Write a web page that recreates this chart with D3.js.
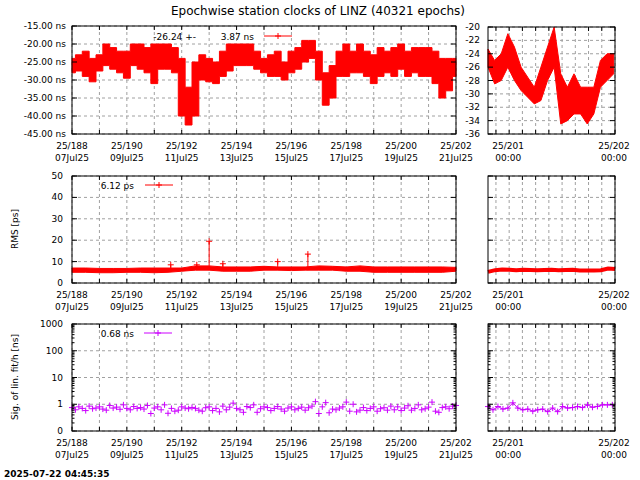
<!DOCTYPE html>
<html><head><meta charset="utf-8">
<script src="https://cdn.jsdelivr.net/npm/d3@7"></script>
<style>body{margin:0;background:#fff}svg text{font-family:"DejaVu Sans",sans-serif;font-size:9px}</style>
</head><body><svg id="c" width="640" height="480"></svg>
<script>
const title = "Epochwise station clocks of LINZ (40321 epochs)";
const timestamp = "2025-07-22 04:45:35";
// top panel: envelope per 0.25 day starting at 188.0
const clkStart = 188, clkStep = 0.25;
const clkHi = [-24,-23,-22,-24,-23,-20,-21,-22,-22,-20,-20,-21,-20,-20,-20,-21,-24,-32,-25,-23,-24,-25,-22,-20,-20,-20,-20,-22,-24,-23,-22,-25,-22,-21,-19,-19,-22,-28,-26,-22,-20,-22,-20,-22,-23,-21,-22,-21,-20,-22,-21,-21,-21,-22,-24,-24,-24];
const clkLo = [-28,-27.5,-29,-30.5,-27.5,-26,-27,-28,-29.5,-26,-27,-28,-31,-27,-27,-28,-40,-42.5,-40,-30,-30.5,-31,-29,-27.5,-26,-26,-26,-27,-28,-29,-29,-30,-28,-27,-25,-24,-30,-37,-35,-29,-29,-28,-28,-29,-31,-29,-28,-29,-27,-29,-28,-29,-29,-31,-35,-33,-29];
// top right detail: envelope per 1.5 h starting at 200.8
const detStart = 200.8, detStep = 0.0625;
const detHi = [-23.3,-25,-24,-21,-23,-26,-27.5,-29,-26,-23,-20,-27,-29,-27,-29,-29,-29,-25,-24,-24];
const detLo = [-26,-28.5,-28,-26,-28,-29.5,-30.5,-31.5,-31,-28,-26,-34.5,-34,-33,-33,-34.5,-33,-29,-28,-27];
// RMS envelope per 0.5 day from 188.0
const rmsStart = 188, rmsStep = 0.5;
const rmsHi = [7,7,6.8,6.8,6.8,7,7,7,7,8,8,7.5,7.5,7.5,7.8,7.5,7.5,7.5,8,7.8,7.5,8,7.5,7.5,7.5,7.5,7.5,7.5,7.3];
const rmsLo = [5,5,4.8,4.8,5,5,4.8,5,5.5,6,6,5.5,5.5,5.5,6,6,5.8,6,6,6,5.5,5.5,5,5,5,5,5,5,5.5];
const rmsSpikeDay = [191.6,192.55,193.0,193.5,195.5,196.6];
const rmsSpikeVal = [8.5,8.5,19.5,9,10,13.5];
const rmsDet = [5.2,6,6.3,6.2,6,6.2,6.1,6,6.1,6.2,6,6.1,6.2,5.8,5.8,5.8,6,6.8,6.5];
// sigma of linear fit, every 3 h from 188.0
const sigStart = 188, sigStep = 0.125;
const sigVal = [0.75,0.62,0.8,0.7,0.58,0.85,0.68,0.72,0.8,0.66,0.6,0.9,0.72,0.78,0.65,0.95,0.7,0.62,0.82,0.7,0.75,0.66,0.9,0.45,0.72,0.8,0.62,0.95,0.46,0.7,0.55,0.6,0.8,0.72,0.68,0.76,0.7,0.6,0.55,0.74,0.8,0.58,0.7,0.52,0.85,0.62,0.78,1.1,0.7,0.62,0.5,0.82,0.75,0.95,0.5,0.68,0.8,0.75,0.58,0.7,0.82,0.66,0.55,0.72,0.8,0.62,0.7,0.78,0.6,0.74,0.85,1.25,0.45,0.8,1.15,0.48,0.66,0.62,0.72,0.8,1.2,0.55,1.0,0.52,0.6,0.75,0.58,0.7,0.8,0.55,0.68,0.74,0.6,0.85,0.62,0.8,0.58,0.72,0.88,0.6,0.7,0.95,0.62,0.68,0.78,1.2,0.55,0.5,0.75,0.8,0.68,0.85,0.9];
const sigDetStart = 200.8, sigDetStep = 0.047;
const sigDet = [0.82,0.62,0.82,0.66,0.72,1.13,0.72,0.62,0.66,0.55,0.62,0.66,0.53,0.72,0.53,0.82,0.72,0.75,0.82,0.75,0.95,0.77,0.83,0.95,0.95,0.95];
const leftTicks = [188,190,192,194,196,198,200,202];
const leftDates = ["07Jul25","09Jul25","11Jul25","13Jul25","15Jul25","17Jul25","19Jul25","21Jul25"];

const svg = d3.select("#c");
const RED="#ff0000", PUR="#cc00ff";
svg.append("text").attr("x",318).attr("y",15).attr("text-anchor","middle").style("font-size","12px").text(title);
svg.append("text").attr("x",4).attr("y",477).style("font-weight","bold").text(timestamp);

const xL = d3.scaleLinear().domain([188,202]).range([72,456]);
const xR = d3.scaleLinear().domain([200.8,202]).range([488,615]);
const panels = [{t:26,b:134},{t:176,b:283},{t:324,b:431}];

function grid(g,x,y,xt,yt,t,b,l,r){
  xt.forEach(v=>g.append("line").attr("x1",x(v)).attr("x2",x(v)).attr("y1",t).attr("y2",b).attr("stroke","#a0a0a0").attr("stroke-dasharray","3,3"));
  yt.forEach(v=>g.append("line").attr("y1",y(v)).attr("y2",y(v)).attr("x1",l).attr("x2",r).attr("stroke","#a0a0a0").attr("stroke-dasharray","3,3"));
}
function frame(g,x,y,xt,yt,t,b,l,r,minorY){
  g.append("rect").attr("x",l).attr("y",t).attr("width",r-l).attr("height",b-t).attr("fill","none").attr("stroke","#000");
  xt.forEach(v=>{g.append("line").attr("x1",x(v)).attr("x2",x(v)).attr("y1",b).attr("y2",b-4).attr("stroke","#000");
    g.append("line").attr("x1",x(v)).attr("x2",x(v)).attr("y1",t).attr("y2",t+4).attr("stroke","#000");});
  yt.forEach(v=>{g.append("line").attr("y1",y(v)).attr("y2",y(v)).attr("x1",l).attr("x2",l+5).attr("stroke","#000");
    g.append("line").attr("y1",y(v)).attr("y2",y(v)).attr("x1",r).attr("x2",r-5).attr("stroke","#000");});
  (minorY||[]).forEach(v=>{g.append("line").attr("y1",y(v)).attr("y2",y(v)).attr("x1",l).attr("x2",l+2.5).attr("stroke","#000");
    g.append("line").attr("y1",y(v)).attr("y2",y(v)).attr("x1",r).attr("x2",r-2.5).attr("stroke","#000");});
}
const dayTicks = d3.range(188,202.01,1);
const detTicks = d3.range(200.875,202.01,0.125);
function xLabels(p){
  leftTicks.forEach((v,i)=>{svg.append("text").attr("x",xL(v)).attr("y",p.b+15).attr("text-anchor","middle").text("25/"+v);
    svg.append("text").attr("x",xL(v)).attr("y",p.b+27).attr("text-anchor","middle").text(leftDates[i]);});
  [201,202].forEach(v=>{svg.append("text").attr("x",xR(v)-1).attr("y",p.b+15).attr("text-anchor","middle").text("25/"+v);
    svg.append("text").attr("x",xR(v)-1).attr("y",p.b+27).attr("text-anchor","middle").text("00:00");});
}
function band(g,x,y,start,step,hi,lo,col,curve){
  const d=hi.map((h,i)=>({x:start+i*step,h,l:lo[i]}));
  g.append("path").datum(d).attr("d",d3.area().curve(curve||d3.curveLinear).x(e=>x(e.x)).y0(e=>y(e.l)).y1(e=>y(e.h))).attr("fill",col).attr("stroke",col).attr("stroke-width",1);
}
function plus(g,px,py,col,s=3){g.append("path").attr("d",`M${px-s},${py}h${2*s}M${px},${py-s}v${2*s}`).attr("stroke",col);}

// Panel 1
let p=panels[0];
const y1=d3.scaleLinear().domain([-45,-15]).range([p.b,p.t]);
const y1t=d3.range(-45,-14,5);
const y1r=d3.scaleLinear().domain([-36,-20]).range([p.b,27]);
const y1rt=d3.range(-36,-19,2);
let g=svg.append("g");
grid(g,xL,y1,dayTicks,y1t,p.t,p.b,72,456);
grid(g,xR,y1r,detTicks,y1rt,27,p.b,488,615);
band(g,xL,y1,clkStart,clkStep,clkHi,clkLo,RED,d3.curveStep);
band(g,xR,y1r,detStart,detStep,detHi,detLo,RED);
frame(g,xL,y1,dayTicks,y1t,p.t,p.b,72,456);
frame(g,xR,y1r,detTicks,y1rt,27,p.b,488,615);
y1t.forEach(v=>svg.append("text").attr("x",66).attr("y",y1(v)+3).attr("text-anchor","end").text(v.toFixed(2)+" ns"));
y1rt.forEach(v=>svg.append("text").attr("x",480).attr("y",y1r(v)+3).attr("text-anchor","end").text(v));
xLabels(p);
svg.append("text").attr("x",196).attr("y",40).attr("text-anchor","end").text("-26.24 +-");
svg.append("text").attr("x",254).attr("y",40).attr("text-anchor","end").text("3.87 ns");
svg.append("line").attr("x1",264).attr("x2",292).attr("y1",36).attr("y2",36).attr("stroke",RED);
plus(svg,278,36,RED);

// Panel 2
p=panels[1];
const y2=d3.scaleLinear().domain([0,50]).range([p.b,p.t]);
const y2t=d3.range(0,51,10);
g=svg.append("g");
grid(g,xL,y2,dayTicks,y2t,p.t,p.b,72,456);
grid(g,xR,y2,detTicks,y2t,p.t,p.b,488,615);
band(g,xL,y2,rmsStart,rmsStep,rmsHi,rmsLo,RED);
rmsSpikeDay.forEach((d,i)=>{g.append("line").attr("x1",xL(d)).attr("x2",xL(d)).attr("y1",y2(6)).attr("y2",y2(rmsSpikeVal[i])).attr("stroke",RED);plus(g,xL(d),y2(rmsSpikeVal[i]),RED);});
g.append("path").datum(rmsDet).attr("d",d3.line().x((v,i)=>xR(200.8+i*0.0667)).y(v=>y2(v))).attr("fill","none").attr("stroke",RED).attr("stroke-width",4);
frame(g,xL,y2,dayTicks,y2t,p.t,p.b,72,456);
frame(g,xR,y2,detTicks,y2t,p.t,p.b,488,615);
y2t.forEach(v=>svg.append("text").attr("x",63).attr("y",y2(v)+3).attr("text-anchor","end").text(v));
xLabels(p);
svg.append("text").attr("x",18).attr("y",229).attr("text-anchor","middle").attr("transform","rotate(-90,18,229)").text("RMS [ps]");
svg.append("text").attr("x",134).attr("y",189).attr("text-anchor","end").text("6.12 ps");
svg.append("line").attr("x1",145).attr("x2",173).attr("y1",185).attr("y2",185).attr("stroke",RED);
plus(svg,159,185,RED);

// Panel 3
p=panels[2];
const y3=d3.scaleLog().domain([0.1,1000]).range([p.b,p.t]);
const y3t=[0.1,1,10,100,1000];
const y3m=[];[0.1,1,10,100].forEach(d=>{for(let k=2;k<10;k++)y3m.push(d*k);});
g=svg.append("g");
grid(g,xL,y3,dayTicks,y3t,p.t,p.b,72,456);
grid(g,xR,y3,detTicks,y3t,p.t,p.b,488,615);
sigVal.forEach((v,i)=>plus(g,xL(sigStart+i*sigStep),y3(v),PUR));
g.append("path").datum(sigDet).attr("d",d3.line().x((v,i)=>xR(sigDetStart+i*sigDetStep)).y(v=>y3(v))).attr("fill","none").attr("stroke",PUR);
sigDet.forEach((v,i)=>plus(g,xR(sigDetStart+i*sigDetStep),y3(v),PUR));
frame(g,xL,y3,dayTicks,y3t,p.t,p.b,72,456,y3m);
frame(g,xR,y3,detTicks,y3t,p.t,p.b,488,615,y3m);
y3t.forEach(v=>svg.append("text").attr("x",63).attr("y",y3(v)+3).attr("text-anchor","end").text(v<1?"0":v));
xLabels(p);
svg.append("text").attr("x",18).attr("y",377).attr("text-anchor","middle").attr("transform","rotate(-90,18,377)").text("Sig. of lin. fit/h [ns]");
svg.append("text").attr("x",134).attr("y",337).attr("text-anchor","end").text("0.68 ns");
svg.append("line").attr("x1",144).attr("x2",172).attr("y1",333).attr("y2",333).attr("stroke",PUR);
plus(svg,158,333,PUR);
</script></body></html>
